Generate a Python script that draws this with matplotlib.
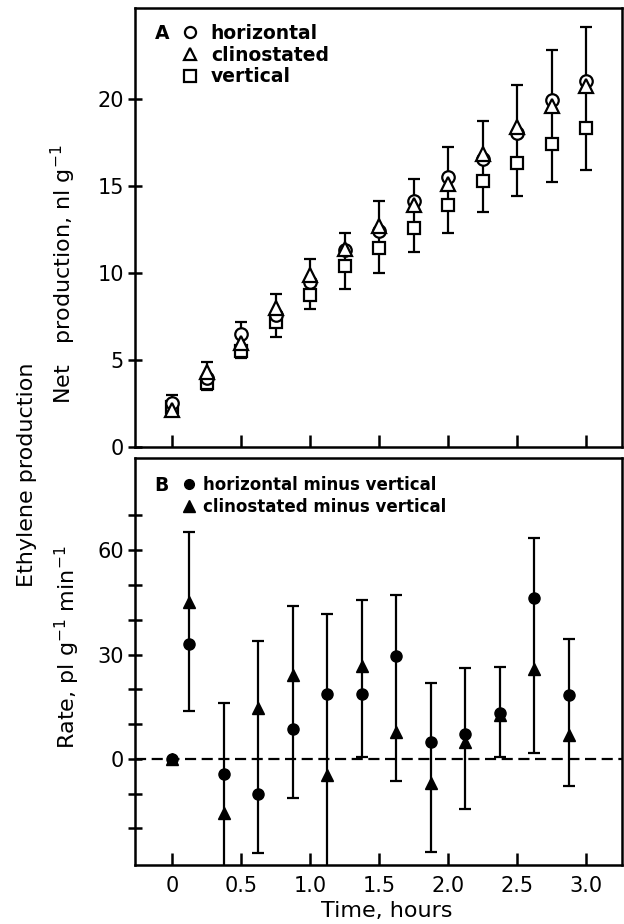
import matplotlib
matplotlib.use("Agg")
import matplotlib.pyplot as plt
from matplotlib.lines import Line2D
import numpy as np

plt.rcParams["font.family"] = ["DejaVu Sans"]
plt.rcParams["mathtext.default"] = "regular"

FONT_TICK = 15
FONT_LABEL = 16
FONT_LEGEND_A = 13.5
FONT_LEGEND_B = 12

# Panel A: net production (nl g-1) at each sampling time
time_a = [0, 0.25, 0.5, 0.75, 1.0, 1.25, 1.5, 1.75, 2.0, 2.25, 2.5, 2.75, 3.0]
horizontal = [2.5, 3.95, 6.5, 7.6, 9.5, 11.3, 12.4, 14.15, 15.5, 16.55, 18.0, 19.9, 21.0]
clinostated = [2.1, 4.3, 6.0, 8.0, 9.9, 11.35, 12.7, 13.9, 15.1, 16.8, 18.35, 19.6, 20.7]
vertical = [2.3, 3.7, 5.5, 7.2, 8.7, 10.4, 11.4, 12.6, 13.9, 15.25, 16.3, 17.4, 18.3]
err_lo_a = [1.8, 3.3, 5.1, 6.3, 7.9, 9.1, 10.0, 11.2, 12.3, 13.5, 14.4, 15.2, 15.9]
err_hi_a = [3.0, 4.9, 7.2, 8.8, 10.8, 12.3, 14.1, 15.4, 17.2, 18.7, 20.8, 22.8, 24.1]

# Panel B: rate differences (pl g-1 min-1) at interval midpoints
time_b = [0, 0.125, 0.375, 0.625, 0.875, 1.125, 1.375, 1.625, 1.875, 2.125, 2.375, 2.625, 2.875]
horiz_minus_vert = [0, 33.0, -4.3, -10.1, 8.6, 18.7, 18.7, 29.6, 4.9, 7.2, 13.2, 46.3, 18.4]
clino_minus_vert = [0, 45.1, -15.5, 14.6, 24.1, -4.6, 26.7, 7.8, -6.9, 4.9, 12.5, 25.9, 6.9]
err_lo_b = [0, 13.8, -45.0, -27.1, -11.3, -45.0, 0.6, -6.3, -26.7, -14.4, 0.6, 1.7, -7.8]
err_hi_b = [0, 65.2, 16.1, 34.0, 44.0, 41.7, 45.7, 47.1, 21.8, 26.1, 26.4, 63.5, 34.5]

x_ticks = [0, 0.5, 1.0, 1.5, 2.0, 2.5, 3.0]
x_ticklabels = ["0", "0.5", "1.0", "1.5", "2.0", "2.5", "3.0"]

fig = plt.figure(figsize=(6.24, 9.24), dpi=100)
ax_a = fig.add_axes([0.2163, 0.5162, 0.7805, 0.4751])
ax_b = fig.add_axes([0.2163, 0.0639, 0.7805, 0.4404])

for ax in (ax_a, ax_b):
    for sp in ax.spines.values():
        sp.set_linewidth(1.8)
    ax.set_xlim(-0.27, 3.26)
    ax.set_xticks(x_ticks)
    ax.tick_params(axis="x", direction="in", length=9, width=1.8, labelsize=FONT_TICK, pad=8)
    ax.tick_params(axis="y", direction="inout", length=10, width=1.8, labelsize=FONT_TICK, pad=3)

# --- Panel A ---
mid_a = (np.array(err_hi_a) + np.array(err_lo_a)) / 2
half_a = (np.array(err_hi_a) - np.array(err_lo_a)) / 2
ax_a.errorbar(time_a, mid_a, yerr=half_a, fmt="none", ecolor="black",
              elinewidth=1.6, capsize=4.5, capthick=1.6, zorder=1)
mk = dict(linestyle="none", markerfacecolor="white", markeredgecolor="black",
          markeredgewidth=1.6, zorder=3)
ax_a.plot(time_a, vertical, marker="s", markersize=8, **mk)
ax_a.plot(time_a, horizontal, marker="o", markersize=9, **mk)
ax_a.plot(time_a, clinostated, marker="^", markersize=10, **mk)

ax_a.set_ylim(0, 25.2)
ax_a.set_yticks([0, 5, 10, 15, 20])
ax_a.set_xticklabels([])
ax_a.set_ylabel("Net   production, nl g$^{-1}$", fontsize=FONT_LABEL)
ax_a.yaxis.set_label_coords(-0.117, 0.394)

h_a = [Line2D([], [], marker=m, markersize=s, **mk) for m, s in (("o", 8), ("^", 9), ("s", 8))]
ax_a.legend(h_a, ["horizontal", "clinostated", "vertical"], loc="upper left",
            bbox_to_anchor=(0.098, 0.964), frameon=False,
            prop=dict(size=FONT_LEGEND_A, weight="bold"),
            handlelength=0.8, handletextpad=0.7, labelspacing=0.15,
            borderaxespad=0, borderpad=0)
ax_a.text(0.04, 0.942, "A", transform=ax_a.transAxes, fontsize=FONT_LEGEND_A,
          fontweight="bold", ha="left", va="center")

# --- Panel B ---
ax_b.axhline(0, color="black", linewidth=1.6, linestyle=(0, (5, 2.5)), zorder=0)
mid_b = (np.array(err_hi_b) + np.array(err_lo_b)) / 2
half_b = (np.array(err_hi_b) - np.array(err_lo_b)) / 2
ax_b.errorbar(time_b[1:], mid_b[1:], yerr=half_b[1:], fmt="none", ecolor="black",
              elinewidth=1.6, capsize=4.5, capthick=1.6, zorder=1)
mkf = dict(linestyle="none", color="black", zorder=3)
ax_b.plot(time_b, horiz_minus_vert, marker="o", markersize=8, **mkf)
ax_b.plot(time_b, clino_minus_vert, marker="^", markersize=9, **mkf)

ax_b.set_ylim(-30.5, 86.5)
ax_b.set_yticks([-20, -10, 0, 10, 20, 30, 40, 50, 60, 70])
ax_b.set_yticklabels(["", "", "0", "", "", "30", "", "", "60", ""])
ax_b.set_xticklabels(x_ticklabels)
ax_b.set_xlabel("Time, hours", fontsize=FONT_LABEL)
ax_b.xaxis.set_label_coords(0.517, -0.089)
ax_b.set_ylabel("Rate, pl g$^{-1}$ min$^{-1}$", fontsize=FONT_LABEL)
ax_b.yaxis.set_label_coords(-0.109, 0.536)

h_b = [Line2D([], [], marker=m, markersize=s, **mkf) for m, s in (("o", 7), ("^", 8))]
ax_b.legend(h_b, ["horizontal minus vertical", "clinostated minus vertical"],
            loc="upper left", bbox_to_anchor=(0.098, 0.957), frameon=False,
            prop=dict(size=FONT_LEGEND_B, weight="bold"),
            handlelength=0.8, handletextpad=0.4, labelspacing=0.25,
            borderaxespad=0, borderpad=0)
ax_b.text(0.04, 0.932, "B", transform=ax_b.transAxes, fontsize=FONT_LEGEND_A,
          fontweight="bold", ha="left", va="center")

fig.text(0.043, 0.486, "Ethylene production", rotation=90, fontsize=FONT_LABEL,
         ha="center", va="center")

fig.savefig("out.png", dpi=100)
